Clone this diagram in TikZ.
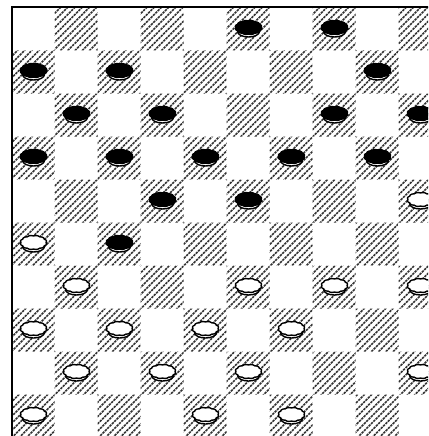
\documentclass[tikz,border=0pt]{standalone}
\usetikzlibrary{calc}
\definecolor{hatchgrey}{HTML}{333333}
\tikzset{
  hatch/.style={hatchgrey, line width=1.6pt, dash pattern=on 2.4pt off 0.9pt},
  rim/.style={black, line width=1.4pt, line join=round},
}
% one man on square (col,row), top colour
\newcommand\man[3]{%
  \begin{scope}[shift={({33.5+43*#1},{-27.5-43*#2})}]
    \draw[rim, fill=white] (-11,0) -- (-11,-4)
      arc[start angle=180, end angle=360, x radius=11, y radius=5.5] -- (11,0) -- cycle;
    \draw[rim, fill=#3] plot[domain=0:360, samples=121, variable=\t]
      ({(12.5+0.8*abs(sin(6*\t)))*cos(\t)}, {(6.5+0.6*abs(sin(6*\t)))*sin(\t)}) -- cycle;
  \end{scope}}

\begin{document}
\begin{tikzpicture}[x=1pt, y=1pt]
  \clip (0,0) rectangle (428,-436);
  \fill[white] (0,0) rectangle (428,-436);
  % dark squares: hatched
  \begin{scope}
    \path[clip] \foreach \r [evaluate=\r as \off using {int(mod(\r+1,2))}] in {0,...,9}{
      \foreach \c in {0,2,4,6,8}{ ({11.5+43*(\c+\off)},{-7.5-43*\r}) rectangle ++(43,-43) } };
    \foreach \k in {-60,...,60}
      \draw[hatch] ({11.5+7.2*\k},-438) -- ++(432,432);
  \end{scope}
  \draw[black, line width=2pt] (11.5,-438) -- (11.5,-7.5) -- (442,-7.5);
  % black men
  \foreach \c/\r in {5/0,7/0,0/1,2/1,8/1,1/2,3/2,7/2,9/2,0/3,2/3,4/3,6/3,8/3,3/4,5/4,2/5}
    \man{\c}{\r}{black};
  % white men
  \foreach \c/\r in {9/4,0/5,1/6,5/6,7/6,9/6,0/7,2/7,4/7,6/7,1/8,3/8,5/8,9/8,0/9,4/9,6/9}
    \man{\c}{\r}{white};
\end{tikzpicture}
\end{document}
